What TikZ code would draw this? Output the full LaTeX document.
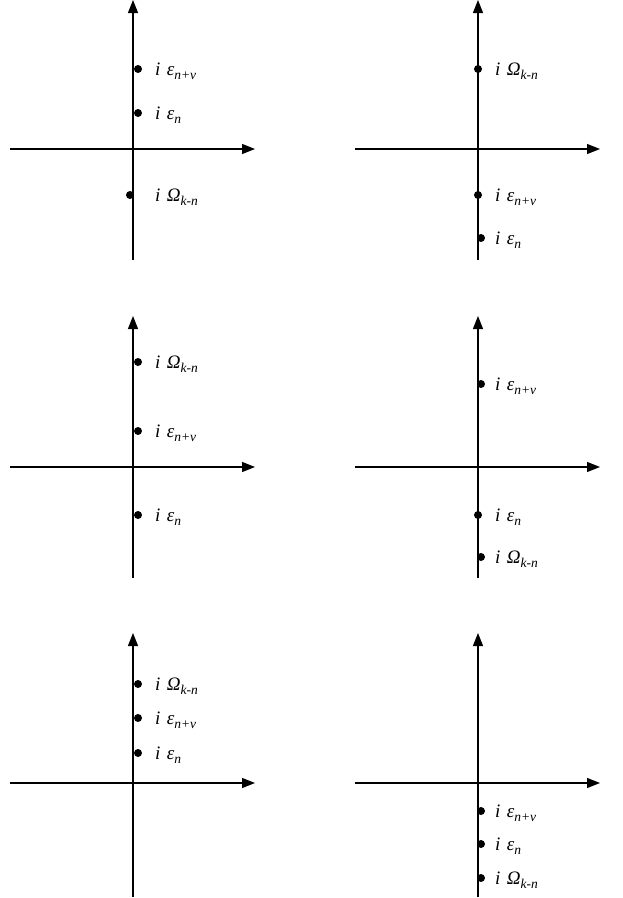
\documentclass[tikz,border=0pt]{standalone}
\usepackage{fontspec}
\setmainfont{Liberation Serif}
\usetikzlibrary{arrows.meta}
\newcommand{\plab}[2]{{\itshape i\,\,#1\raisebox{-0.25em}{\fontsize{13.5}{13.5}\selectfont #2}}}
\tikzset{
  axis/.style={line width=1.3pt,-{Triangle[length=13pt,width=10pt]}},
  pdot/.style={circle,fill=black,inner sep=0pt,minimum size=8pt},
  plabel/.style={anchor=base west,inner sep=0pt,font=\fontsize{19}{19}\selectfont}
}
\begin{document}
\begin{tikzpicture}[x=1pt,y=-1pt]
\useasboundingbox (0,0) rectangle (623,898);
% panel 1
\coordinate (a1l) at (10,149); \coordinate (a1r) at (255,149);
\coordinate (a1b) at (133,260); \coordinate (a1t) at (133,0);
\draw[axis] (a1l) -- (a1r);
\draw[axis] (a1b) -- (a1t);
\node[pdot] (d1a) at (138,69) {};
\node[pdot] (d1b) at (138,113) {};
\node[pdot] (d1c) at (130,195) {};
\node[plabel] (l1a) at (155,75) {\plab{ε}{n+ν}};
\node[plabel] (l1b) at (155,119) {\plab{ε}{n}};
\node[plabel] (l1c) at (155,201) {\plab{Ω}{k-n}};
% panel 2
\coordinate (a2l) at (355,149); \coordinate (a2r) at (600,149);
\coordinate (a2b) at (478,260); \coordinate (a2t) at (478,0);
\draw[axis] (a2l) -- (a2r);
\draw[axis] (a2b) -- (a2t);
\node[pdot] (d2a) at (478,69) {};
\node[pdot] (d2b) at (478,195) {};
\node[pdot] (d2c) at (481,238) {};
\node[plabel] (l2a) at (495,75) {\plab{Ω}{k-n}};
\node[plabel] (l2b) at (495,201) {\plab{ε}{n+ν}};
\node[plabel] (l2c) at (495,244) {\plab{ε}{n}};
% panel 3
\coordinate (a3l) at (10,467); \coordinate (a3r) at (255,467);
\coordinate (a3b) at (133,578); \coordinate (a3t) at (133,316);
\draw[axis] (a3l) -- (a3r);
\draw[axis] (a3b) -- (a3t);
\node[pdot] (d3a) at (138,362) {};
\node[pdot] (d3b) at (138,431) {};
\node[pdot] (d3c) at (138,515) {};
\node[plabel] (l3a) at (155,368) {\plab{Ω}{k-n}};
\node[plabel] (l3b) at (155,437) {\plab{ε}{n+ν}};
\node[plabel] (l3c) at (155,521) {\plab{ε}{n}};
% panel 4
\coordinate (a4l) at (355,467); \coordinate (a4r) at (600,467);
\coordinate (a4b) at (478,578); \coordinate (a4t) at (478,316);
\draw[axis] (a4l) -- (a4r);
\draw[axis] (a4b) -- (a4t);
\node[pdot] (d4a) at (481,384) {};
\node[pdot] (d4b) at (478,515) {};
\node[pdot] (d4c) at (481,557) {};
\node[plabel] (l4a) at (495,390) {\plab{ε}{n+ν}};
\node[plabel] (l4b) at (495,521) {\plab{ε}{n}};
\node[plabel] (l4c) at (495,563) {\plab{Ω}{k-n}};
% panel 5
\coordinate (a5l) at (10,783); \coordinate (a5r) at (255,783);
\coordinate (a5b) at (133,897); \coordinate (a5t) at (133,633);
\draw[axis] (a5l) -- (a5r);
\draw[axis] (a5b) -- (a5t);
\node[pdot] (d5a) at (138,684) {};
\node[pdot] (d5b) at (138,718) {};
\node[pdot] (d5c) at (138,753) {};
\node[plabel] (l5a) at (155,690) {\plab{Ω}{k-n}};
\node[plabel] (l5b) at (155,724) {\plab{ε}{n+ν}};
\node[plabel] (l5c) at (155,759) {\plab{ε}{n}};
% panel 6
\coordinate (a6l) at (355,783); \coordinate (a6r) at (600,783);
\coordinate (a6b) at (478,897); \coordinate (a6t) at (478,633);
\draw[axis] (a6l) -- (a6r);
\draw[axis] (a6b) -- (a6t);
\node[pdot] (d6a) at (481,811) {};
\node[pdot] (d6b) at (481,844) {};
\node[pdot] (d6c) at (481,878) {};
\node[plabel] (l6a) at (495,817) {\plab{ε}{n+ν}};
\node[plabel] (l6b) at (495,850) {\plab{ε}{n}};
\node[plabel] (l6c) at (495,884) {\plab{Ω}{k-n}};
\end{tikzpicture}
\end{document}
